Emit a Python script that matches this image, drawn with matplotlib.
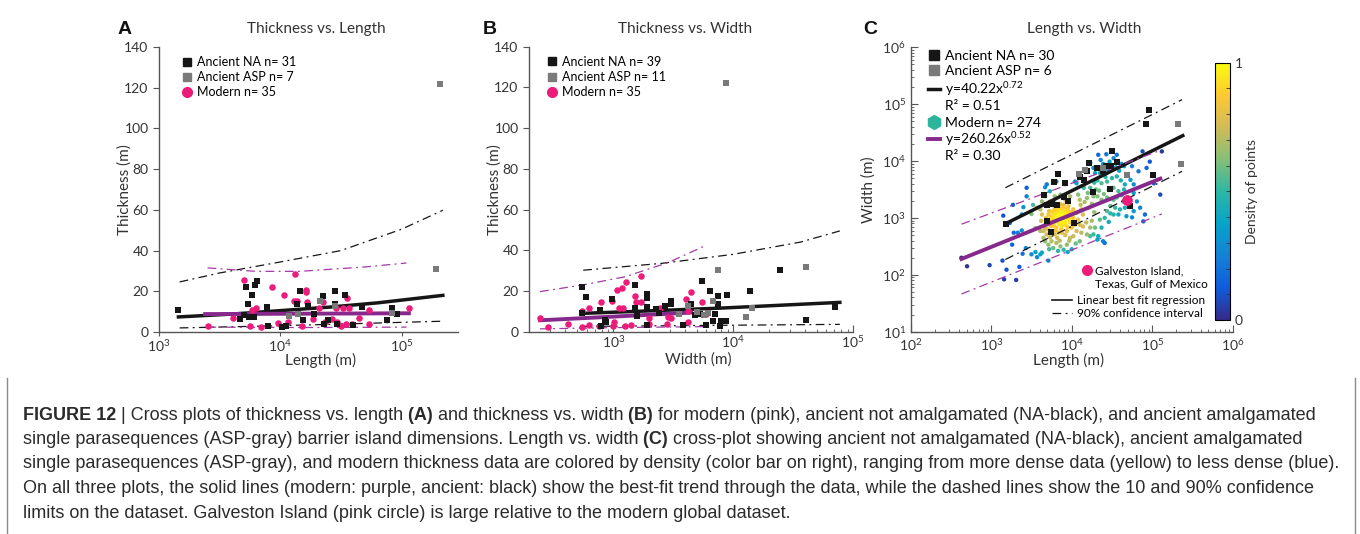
import numpy as np
import matplotlib
matplotlib.use('Agg')
import matplotlib.pyplot as plt
from matplotlib.colors import LinearSegmentedColormap
from matplotlib.lines import Line2D
from matplotlib.ticker import NullLocator, LogLocator, MultipleLocator

plt.rcParams['font.family'] = ['Lato', 'DejaVu Sans']
plt.rcParams['mathtext.fontset'] = 'custom'
plt.rcParams['mathtext.rm'] = 'Lato'
plt.rcParams['mathtext.it'] = 'Lato:italic'
plt.rcParams['mathtext.bf'] = 'Lato:bold'

# ---------------- data (lengths / widths as log10 values) ----------------
# A: thickness vs length
a_na_len = [3.16, 3.72, 3.73, 3.77, 3.79, 3.81, 3.67, 3.74, 3.78, 3.89, 3.90, 4.01, 4.14, 4.16, 4.19, 4.23,
            4.28, 4.35, 4.36, 4.39, 4.45, 4.45, 4.47, 4.53, 4.67, 4.88, 4.92, 4.96, 3.70, 4.60, 4.05]
a_na_thk = [10.7, 22.0, 13.9, 18.3, 23.2, 25.1, 6.3, 7.3, 7.6, 12.2, 3.1, 2.5, 13.7, 20.2, 5.8, 12.7,
            8.8, 17.5, 3.7, 5.8, 20.2, 13.6, 3.9, 18.3, 12.2, 5.8, 12.0, 9.0, 8.5, 3.5, 3.0]
a_asp_len = [5.32, 5.28, 4.07, 4.15, 4.33, 4.45, 4.92]
a_asp_thk = [122, 31, 7.7, 9.0, 15.4, 13.0, 9.5]
a_mod_len = [3.40, 3.61, 3.70, 3.77, 3.80, 3.93, 4.03, 4.06, 4.12, 4.11, 4.14, 4.21, 4.21, 4.22, 4.18, 4.27,
             4.35, 4.37, 4.43, 4.46, 4.47, 4.52, 4.54, 4.55, 4.57, 4.59, 4.65, 4.73, 4.73, 5.06, 3.84,
             4.32, 3.98, 4.50, 3.75]
a_mod_thk = [2.9, 6.8, 25.3, 10.7, 11.8, 22.0, 18.1, 4.9, 28.3, 15.3, 15.3, 20.8, 19.8, 14.7, 2.9, 6.6,
             14.7, 4.7, 6.3, 11.9, 4.9, 11.9, 3.7, 16.6, 11.9, 3.7, 6.8, 10.8, 3.7, 11.9, 2.7,
             11.9, 4.6, 2.8, 3.0]
# trend / confidence curves in A
a_fit_na_x = [3.16, 3.6, 4.0, 4.4, 4.8, 5.34]
a_fit_na_y = [7.4, 8.8, 10.5, 12.2, 14.3, 18.0]
a_fit_mod_x = [3.38, 4.2, 5.06]
a_fit_mod_y = [8.8, 9.0, 9.2]
a_hi_na_x = [3.17, 3.5, 4.0, 4.5, 5.0, 5.34]
a_hi_na_y = [24.6, 29.0, 34.4, 40.0, 50.5, 59.8]
a_lo_na_x = [3.17, 4.0, 5.34]
a_lo_na_y = [2.0, 3.1, 5.3]
a_hi_mod_x = [3.40, 3.80, 4.16, 4.71, 5.04]
a_hi_mod_y = [31.5, 29.8, 29.8, 32.0, 33.9]
a_lo_mod_x = [3.40, 4.2, 5.04]
a_lo_mod_y = [2.4, 2.2, 2.4]

# B: thickness vs width
b_na_wid = [2.74, 2.77, 2.74, 2.93, 2.94, 2.89, 2.99, 3.18, 3.18, 3.20, 3.28, 3.28, 3.28, 3.36, 3.38, 3.43,
            3.48, 3.48, 3.58, 3.65, 3.72, 3.74, 3.77, 3.81, 3.83, 3.85, 3.87, 3.87, 3.89, 3.90, 3.94, 3.95,
            4.14, 4.39, 4.61, 4.85, 3.68, 3.28, 2.90]
b_na_thk = [22.0, 17.1, 9.2, 5.9, 4.9, 10.9, 16.0, 23.0, 11.4, 7.6, 18.3, 16.6, 3.4, 11.3, 9.2, 12.6,
            15.1, 13.8, 3.4, 13.8, 8.9, 24.7, 3.5, 20.0, 5.5, 8.9, 17.5, 13.8, 2.7, 5.5, 5.5, 18.2,
            20.0, 30.3, 5.9, 12.1, 8.4, 12.0, 3.0]
b_asp_wid = [3.94, 3.87, 4.61, 3.55, 3.76, 3.83, 4.11, 3.79, 3.62, 4.16, 3.70]
b_asp_thk = [122, 30.3, 31.6, 8.7, 8.4, 15.1, 7.2, 9.0, 12.6, 11.8, 9.5]
b_mod_wid = [2.39, 2.46, 2.74, 2.80, 2.74, 2.80, 2.90, 2.99, 3.03, 3.07, 3.11, 3.05, 3.08, 3.01, 3.18, 3.19,
             3.23, 3.23, 3.30, 3.39, 3.46, 3.48, 3.61, 3.65, 3.62, 3.62, 3.74, 3.77, 2.88, 3.00, 3.15,
             3.30, 3.45, 3.10, 2.62]
b_mod_thk = [6.7, 2.5, 10.3, 11.5, 2.5, 3.3, 14.4, 15.2, 20.3, 21.3, 24.6, 11.5, 11.5, 4.6, 17.5, 14.4,
             27.5, 14.4, 6.6, 11.5, 7.4, 6.6, 16.1, 19.7, 10.2, 4.9, 14.4, 8.9, 3.0, 2.8, 3.5,
             3.8, 3.6, 2.6, 3.9]
b_fit_na_x = [2.74, 3.2, 3.9, 4.89]
b_fit_na_y = [9.0, 10.0, 11.6, 14.4]
b_fit_mod_x = [2.39, 3.0, 3.65]
b_fit_mod_y = [5.6, 7.4, 9.4]
b_hi_na_x = [2.75, 3.41, 4.0, 4.56, 4.89]
b_hi_na_y = [30.2, 33.6, 38.0, 44.0, 49.5]
b_lo_na_x = [2.75, 3.8, 4.89]
b_lo_na_y = [2.6, 3.1, 3.6]
b_hi_mod_x = [2.39, 2.75, 3.1, 3.46, 3.77]
b_hi_mod_y = [19.7, 23.0, 27.0, 34.0, 42.3]
b_lo_mod_x = [2.39, 3.0, 3.77]
b_lo_mod_y = [1.4, 2.0, 2.5]

# C: length vs width (both log10)
c_na_len = [3.18, 3.66, 3.69, 3.69, 3.74, 3.75, 3.78, 3.82, 3.83, 3.91, 3.92, 4.03, 4.15, 4.19, 4.21,
            4.26, 4.32, 4.36, 4.39, 4.42, 4.48, 4.50, 4.49, 4.56, 4.72, 4.92, 4.96, 5.01, 4.10, 3.96]
c_na_wid = [2.90, 3.40, 2.95, 3.22, 2.76, 3.25, 3.64, 3.22, 3.78, 3.36, 3.61, 2.91, 3.67, 3.83, 3.97,
            3.45, 3.88, 3.87, 3.82, 3.92, 3.51, 4.18, 3.91, 3.98, 3.21, 4.66, 4.90, 3.75, 3.72, 3.30]
c_asp_len = [4.09, 4.17, 4.69, 5.32, 5.36, 4.39]
c_asp_wid = [3.78, 3.84, 3.75, 4.66, 3.95, 3.88]
galveston_len = [48000]
galveston_wid = [2040]
c_mod_len = [2.63, 2.70, 2.98, 3.14, 3.16, 3.19, 3.31, 3.35, 3.15, 3.26, 3.28, 3.33, 3.38, 3.40, 3.38, 3.44,
             3.50, 3.43, 3.50, 3.55, 3.61, 3.57, 3.71, 3.39, 3.63, 3.23, 3.27, 3.44, 3.69, 3.81,
             3.52, 3.57, 3.61, 3.67, 3.63, 3.55, 3.61, 3.65, 3.69,
             3.73, 3.77, 3.79, 3.81, 3.83, 3.86, 3.88, 3.89, 3.91, 3.92, 3.94, 3.95, 3.97, 3.98, 3.86, 3.81,
             3.75, 3.73, 3.71, 3.77, 3.83, 3.90, 3.96, 4.02, 4.02, 4.04, 4.00, 3.94, 3.88, 3.79, 3.73, 3.69,
             3.67, 3.75, 3.81, 3.86, 3.90, 3.83, 3.77, 3.71, 3.67, 3.94, 3.98, 4.02, 4.06, 3.67, 3.73, 3.79,
             3.86, 3.92, 3.98, 3.63,
             3.80, 3.84, 3.87, 3.90, 3.93, 3.85, 3.82, 3.88, 3.91, 3.78, 3.96, 3.84, 3.79, 3.92, 3.74, 3.87,
             3.76, 3.82, 3.70, 3.78,
             3.76, 3.79, 3.83, 3.86, 3.89, 3.93, 3.95, 3.81, 3.85, 3.74, 3.72, 3.98, 3.90, 3.80, 3.88, 3.95,
             3.70, 3.68, 3.76, 3.84, 3.92, 3.99, 4.01, 3.86, 3.78, 3.62, 3.65, 3.72, 3.85, 3.97,
             4.08, 4.10, 4.11, 4.12, 4.14, 4.08, 4.10, 4.06, 4.15, 4.06, 4.17, 4.04, 4.23, 4.19, 4.21, 4.23,
             4.19, 4.12, 4.10, 4.23,
             4.33, 4.36, 4.39, 4.43, 4.47, 4.52, 4.44, 4.55, 4.59, 4.65, 4.29, 4.35, 4.32, 4.37, 4.44, 4.50,
             4.56, 4.61, 4.66, 4.73, 4.77, 4.52, 4.58, 4.65, 4.27, 4.32, 4.37, 4.44, 4.52, 4.56, 4.64, 4.77,
             4.81, 4.85, 4.77, 4.73, 4.66, 4.60, 4.54, 4.48, 4.44, 4.52, 4.58, 4.68, 4.75, 4.41, 4.35, 4.46,
             4.29, 4.37, 4.27, 4.33, 4.39, 4.41, 4.32, 4.89, 4.91, 4.88, 5.02, 5.10, 5.12, 4.97, 4.93, 4.83,
             4.75, 4.23, 4.27, 4.56,
             4.16, 4.20, 4.25, 4.28, 4.25, 4.30, 4.18, 4.14, 4.05, 4.00, 3.95, 4.28, 4.34, 4.40, 4.46, 4.48,
             4.62, 4.70, 4.42, 4.62]
c_mod_wid = [2.30, 2.15, 2.17, 2.25, 1.92, 2.09, 1.91, 2.14, 3.04, 2.53, 2.74, 2.74, 2.78, 3.19, 3.06, 3.38,
             3.07, 2.47, 2.36, 2.40, 2.36, 2.31, 2.25, 2.37, 2.39, 2.91, 3.23, 3.53, 3.59, 3.64,
             3.23, 3.18, 3.15, 3.54, 3.06, 2.82, 2.77, 2.77, 3.21,
             3.29, 3.12, 3.03, 3.09, 2.97, 3.06, 3.15, 3.00, 3.09, 2.94, 3.03, 3.12, 2.97, 3.06, 2.88, 2.83,
             2.91, 2.97, 3.06, 3.23, 3.23, 3.23, 3.21, 3.15, 3.00, 2.88, 2.83, 2.77, 2.74, 2.71, 2.66, 2.71,
             2.83, 2.59, 2.56, 2.50, 2.44, 2.42, 2.47, 2.53, 2.59, 2.53, 2.65, 2.68, 2.77, 3.38, 3.47, 3.38,
             3.41, 3.32, 3.38, 3.29,
             3.00, 3.05, 3.10, 2.97, 3.08, 2.95, 3.14, 3.04, 3.13, 3.07, 3.00, 2.90, 2.93, 2.88, 3.02, 2.80,
             2.75, 2.65, 2.80, 2.86,
             3.10, 3.18, 3.12, 3.01, 2.92, 2.98, 3.16, 2.96, 3.18, 2.86, 3.12, 2.92, 3.18, 2.78, 2.86, 2.84,
             2.92, 3.00, 2.98, 2.74, 2.70, 3.10, 3.05, 3.24, 3.30, 2.95, 2.65, 2.45, 2.60, 2.60,
             3.41, 3.32, 3.23, 3.15, 3.06, 2.97, 2.88, 3.09, 3.53, 3.61, 3.61, 3.64, 3.53, 3.35, 3.18, 2.83,
             2.71, 2.74, 2.59, 2.68,
             4.11, 4.02, 3.95, 4.12, 3.99, 4.05, 3.85, 3.89, 3.83, 3.91, 3.79, 3.79, 3.66, 3.61, 3.64, 3.70,
             3.73, 3.66, 3.59, 3.67, 3.59, 3.53, 3.47, 3.50, 3.38, 3.38, 3.32, 3.36, 3.32, 3.36, 3.29, 3.44,
             3.29, 3.18, 3.12, 3.21, 3.18, 3.15, 3.18, 3.21, 3.12, 3.06, 3.06, 3.03, 3.01, 3.00, 2.97, 2.93,
             2.83, 2.83, 2.71, 2.68, 2.59, 2.56, 2.62, 2.94, 3.06, 4.17, 3.61, 3.41, 4.17, 3.99, 3.88, 3.82,
             3.91, 3.97, 3.88, 4.11,
             3.28, 3.44, 3.25, 3.10, 2.95, 3.50, 2.92, 2.85, 2.55, 2.45, 2.40, 3.62, 3.48, 3.42, 3.49, 3.08,
             3.40, 3.36, 3.72, 3.95]
# trend / confidence lines in C (real values)
c_fit_na_x, c_fit_na_y = [1.5e3, 2.4e5], [790, 2.8e4]
c_fit_mod_x, c_fit_mod_y = [427, 1.26e5], [190, 4900]
c_hi_na_x, c_hi_na_y = [1.5e3, 2.35e5], [3400, 1.2e5]
c_lo_na_x, c_lo_na_y = [1.5e3, 2.35e5], [186, 6600]
c_hi_mod_x, c_hi_mod_y = [427, 1.32e5], [776, 15800]
c_lo_mod_x, c_lo_mod_y = [427, 1.32e5], [46, 1175]

# ---------------- styles ----------------
black = '#161616'
gray = '#7a7a7a'
pink = '#EC1C7B'
purple = '#86288C'
purple_lt = '#A23AA6'
teal = '#2DB59B'
txtc = '#333333'
dashdot = (0, (7, 3.5, 1.5, 3.5))

parula = LinearSegmentedColormap.from_list(
    'parula', ['#352A87', '#0F5CDD', '#1481D6', '#06A4CA', '#2EB7A4',
               '#87BF77', '#D1BB59', '#FEC832', '#F9FB0E'])

W, H = 1360, 534
fig = plt.figure(figsize=(W / 100, H / 100), dpi=100)


def box(l, r, t, b):
    return [l / W, 1 - b / H, (r - l) / W, (b - t) / H]


axA = fig.add_axes(box(159, 458, 47, 332))
axB = fig.add_axes(box(529, 853, 46.7, 331.7))
axC = fig.add_axes(box(910.7, 1232.7, 47.3, 331.7))
cax = fig.add_axes(box(1215, 1230, 62.7, 320))


def style(ax):
    for s in ['top', 'right']:
        ax.spines[s].set_visible(False)
    for s in ['left', 'bottom']:
        ax.spines[s].set_color('#555555')
        ax.spines[s].set_linewidth(1.0)
    ax.tick_params(colors='#555555', labelcolor=txtc, labelsize=10)
    ax.tick_params(axis='x', pad=1.5)


def thick_panel(ax, na_x, na_y, asp_x, asp_y, mod_x, mod_y, curves):
    ax.set_xscale('log')
    for (xs, ys, col, lw, ls) in curves:
        ax.plot(10 ** np.array(xs), ys, color=col, lw=lw, ls=ls, zorder=3)
    ax.scatter(10 ** np.array(mod_x), mod_y, s=22, color=pink, lw=0, zorder=4)
    ax.scatter(10 ** np.array(na_x), na_y, s=14, marker='s', color=black, lw=0, zorder=4)
    ax.scatter(10 ** np.array(asp_x), asp_y, s=14, marker='s', color=gray, lw=0, zorder=4)
    ax.set_ylim(0, 140)
    ax.set_yticks(range(0, 141, 20))
    style(ax)
    ax.tick_params(axis='y', direction='out', length=4)
    handles = [Line2D([], [], marker='s', ls='none', color=black, markersize=6),
               Line2D([], [], marker='s', ls='none', color=gray, markersize=6),
               Line2D([], [], marker='o', ls='none', color=pink, markersize=7)]
    return handles


curvesA = [(a_fit_na_x, a_fit_na_y, black, 2.5, '-'),
           (a_fit_mod_x, a_fit_mod_y, purple, 2.8, '-'),
           (a_hi_na_x, a_hi_na_y, black, 0.9, dashdot),
           (a_lo_na_x, a_lo_na_y, black, 0.9, dashdot),
           (a_hi_mod_x, a_hi_mod_y, purple_lt, 0.9, dashdot),
           (a_lo_mod_x, a_lo_mod_y, purple_lt, 0.9, dashdot)]
hA = thick_panel(axA, a_na_len, a_na_thk, a_asp_len, a_asp_thk, a_mod_len, a_mod_thk, curvesA)
axA.set_xlim(1e3, 10 ** 5.465)
axA.xaxis.set_minor_locator(NullLocator())
axA.tick_params(axis='x', direction='out', length=3)
axA.legend(hA, ['Ancient NA n= 31', 'Ancient ASP n= 7', 'Modern n= 35'], loc='upper left',
           bbox_to_anchor=(0.077, 0.968), frameon=False, fontsize=9, handlelength=0.8,
           handletextpad=0.4, labelspacing=0.25, borderaxespad=0, borderpad=0)
axA.set_ylabel('Thickness (m)', fontsize=11, color=txtc)
axA.yaxis.set_label_coords(-0.09, 0.5)
axA.set_xlabel('Length (m)', fontsize=11, color=txtc)
axA.xaxis.set_label_coords(0.539, -0.072)

curvesB = [(b_fit_na_x, b_fit_na_y, black, 2.5, '-'),
           (b_fit_mod_x, b_fit_mod_y, purple, 2.8, '-'),
           (b_hi_na_x, b_hi_na_y, black, 0.9, dashdot),
           (b_lo_na_x, b_lo_na_y, black, 0.9, dashdot),
           (b_hi_mod_x, b_hi_mod_y, purple_lt, 0.9, dashdot),
           (b_lo_mod_x, b_lo_mod_y, purple_lt, 0.9, dashdot)]
hB = thick_panel(axB, b_na_wid, b_na_thk, b_asp_wid, b_asp_thk, b_mod_wid, b_mod_thk, curvesB)
axB.set_xlim(10 ** 2.298, 1e5)
axB.xaxis.set_minor_locator(LogLocator(subs=np.arange(2, 10), numticks=20))
axB.tick_params(axis='x', which='major', direction='in', length=5)
axB.tick_params(axis='x', which='minor', direction='in', length=2.5, color='#555555')
axB.legend(hB, ['Ancient NA n= 39', 'Ancient ASP n= 11', 'Modern n= 35'], loc='upper left',
           bbox_to_anchor=(0.056, 0.968), frameon=False, fontsize=9, handlelength=0.8,
           handletextpad=0.4, labelspacing=0.25, borderaxespad=0, borderpad=0)
axB.set_ylabel('Thickness (m)', fontsize=11, color=txtc)
axB.yaxis.set_label_coords(-0.083, 0.5)
axB.set_xlabel('Width (m)', fontsize=11, color=txtc)
axB.xaxis.set_label_coords(0.522, -0.072)

# ---------------- C ----------------
lx = np.array(c_mod_len)
ly = np.array(c_mod_wid)
d2 = (lx[:, None] - lx[None, :]) ** 2 + (ly[:, None] - ly[None, :]) ** 2
kde = np.exp(-d2 / (2 * 0.2 ** 2)).sum(axis=1)
dens = (kde.argsort().argsort() / (len(kde) - 1)) ** 0.7   # density rank scaled to 0..1
order = np.argsort(dens)

axC.set_xscale('log')
axC.set_yscale('log')
sc = axC.scatter(10 ** lx[order], 10 ** ly[order], c=dens[order], cmap=parula, vmin=0, vmax=1,
                 s=10, lw=0, zorder=2)
for xs, ys, col, lw, ls in [(c_fit_na_x, c_fit_na_y, black, 2.5, '-'),
                            (c_fit_mod_x, c_fit_mod_y, purple, 2.8, '-'),
                            (c_hi_na_x, c_hi_na_y, black, 0.9, dashdot),
                            (c_lo_na_x, c_lo_na_y, black, 0.9, dashdot),
                            (c_hi_mod_x, c_hi_mod_y, purple_lt, 0.9, dashdot),
                            (c_lo_mod_x, c_lo_mod_y, purple_lt, 0.9, dashdot)]:
    axC.plot(xs, ys, color=col, lw=lw, ls=ls, zorder=3)
axC.scatter(10 ** np.array(c_na_len), 10 ** np.array(c_na_wid), s=20, marker='s', color=black, lw=0, zorder=4)
axC.scatter(10 ** np.array(c_asp_len), 10 ** np.array(c_asp_wid), s=20, marker='s', color=gray, lw=0, zorder=4)
axC.scatter(galveston_len, galveston_wid, s=60, color=pink, lw=0, zorder=5)
axC.set_xlim(1e2, 1e6)
axC.set_ylim(1e1, 1e6)
style(axC)
axC.tick_params(which='major', direction='in', length=5)
axC.tick_params(which='minor', direction='in', length=2.5, color='#555555')
axC.tick_params(axis='x', pad=4)
axC.set_ylabel('Width (m)', fontsize=11, color=txtc)
axC.yaxis.set_label_coords(-0.108, 0.5)
axC.set_xlabel('Length (m)', fontsize=11, color=txtc)
axC.xaxis.set_label_coords(0.489, -0.075)

blank = Line2D([], [], color='none')
legC1 = axC.legend([Line2D([], [], marker='s', ls='none', color=black, markersize=7),
                    Line2D([], [], marker='s', ls='none', color=gray, markersize=7),
                    Line2D([], [], color=black, lw=2.5), blank],
                   ['Ancient NA n= 30', 'Ancient ASP n= 6', 'y=40.22x$^{0.72}$', 'R² = 0.51'],
                   loc='upper left', bbox_to_anchor=(0.054, 0.99), frameon=False,
                   fontsize=10, handlelength=0.86, handletextpad=0.36, labelspacing=0.2,
                   borderaxespad=0, borderpad=0)
axC.add_artist(legC1)
legC2 = axC.legend([Line2D([], [], marker='h', ls='none', color=teal, markersize=10),
                    Line2D([], [], color=purple, lw=2.8), blank],
                   ['Modern n= 274', 'y=260.26x$^{0.52}$', 'R² = 0.30'],
                   loc='upper left', bbox_to_anchor=(0.054, 0.755), frameon=False,
                   fontsize=10, handlelength=0.86, handletextpad=0.36, labelspacing=0.1,
                   borderaxespad=0, borderpad=0)
axC.add_artist(legC2)
legG = axC.legend([Line2D([], [], marker='o', ls='none', color=pink, markersize=7), blank],
                  ['Galveston Island,', 'Texas, Gulf of Mexico'], loc='upper left',
                  bbox_to_anchor=(0.538, 0.2335), frameon=False, fontsize=8.5, handlelength=0.6,
                  handletextpad=0.35, labelspacing=0.15, borderaxespad=0, borderpad=0)
axC.add_artist(legG)
axC.legend([Line2D([], [], color=black, lw=1.2), Line2D([], [], color=black, lw=0.9, ls=dashdot)],
           ['Linear best fit regression', '90% confidence interval'], loc='upper left',
           bbox_to_anchor=(0.4385, 0.128), frameon=False, fontsize=8.5, handlelength=1.7,
           handletextpad=0.42, labelspacing=0.15, borderaxespad=0, borderpad=0)

cb = fig.colorbar(sc, cax=cax)
cb.outline.set_linewidth(0.8)
cb.set_ticks([0, 1])
cb.ax.yaxis.set_minor_locator(MultipleLocator(0.1))
cb.ax.tick_params(which='both', direction='in', labelsize=10, labelcolor=txtc, color='#333333')
cb.ax.tick_params(which='major', length=0)
cb.ax.tick_params(which='minor', length=3)
cb.set_label('Density of points', fontsize=10, color=txtc, labelpad=2)

# ---------------- titles and panel letters ----------------
for x, t in [(316, 'Thickness vs. Length'), (685, 'Thickness vs. Width'), (1084, 'Length vs. Width')]:
    fig.text(x / W, 1 - 29 / H, t, ha='center', va='center', fontsize=11, color=txtc)
for x, t in [(125, 'A'), (490, 'B'), (870, 'C')]:
    fig.text(x / W, 1 - 30 / H, t, ha='center', va='center', fontsize=14, fontweight='bold',
             family='Liberation Sans', color='#111111')

# ---------------- caption ----------------
caption = [
    [('FIGURE 12', True), (' | Cross plots of thickness vs. length', False), (' (A)', True),
     (' and thickness vs. width', False), (' (B)', True),
     (' for modern (pink), ancient not amalgamated (NA-black), and ancient amalgamated', False)],
    [('single parasequences (ASP-gray) barrier island dimensions. Length vs. width', False), (' (C)', True),
     (' cross-plot showing ancient not amalgamated (NA-black), ancient amalgamated', False)],
    [('single parasequences (ASP-gray), and modern thickness data are colored by density (color bar on right), '
      'ranging from more dense data (yellow) to less dense (blue).', False)],
    [('On all three plots, the solid lines (modern: purple, ancient: black) show the best-fit trend through '
      'the data, while the dashed lines show the 10 and 90% confidence', False)],
    [('limits on the dataset. Galveston Island (pink circle) is large relative to the modern global dataset.',
      False)],
]
renderer = fig.canvas.get_renderer()
for i, parts in enumerate(caption):
    x = 22.7 / W
    y = 1 - (419.5 + 24.5 * i) / H
    for txt, bold in parts:
        t = fig.text(x, y, txt, fontsize=13.0, fontweight='bold' if bold else 'normal',
                     family='Liberation Sans', va='baseline', ha='left', color='#2b2b2b')
        x += t.get_window_extent(renderer=renderer).width / W

for xv in [7.3, 1355]:
    fig.add_artist(Line2D([xv / W, xv / W], [0, 1 - 378 / H], color='#8a8a8a', lw=1.0))

fig.savefig('out.png', dpi=100)
